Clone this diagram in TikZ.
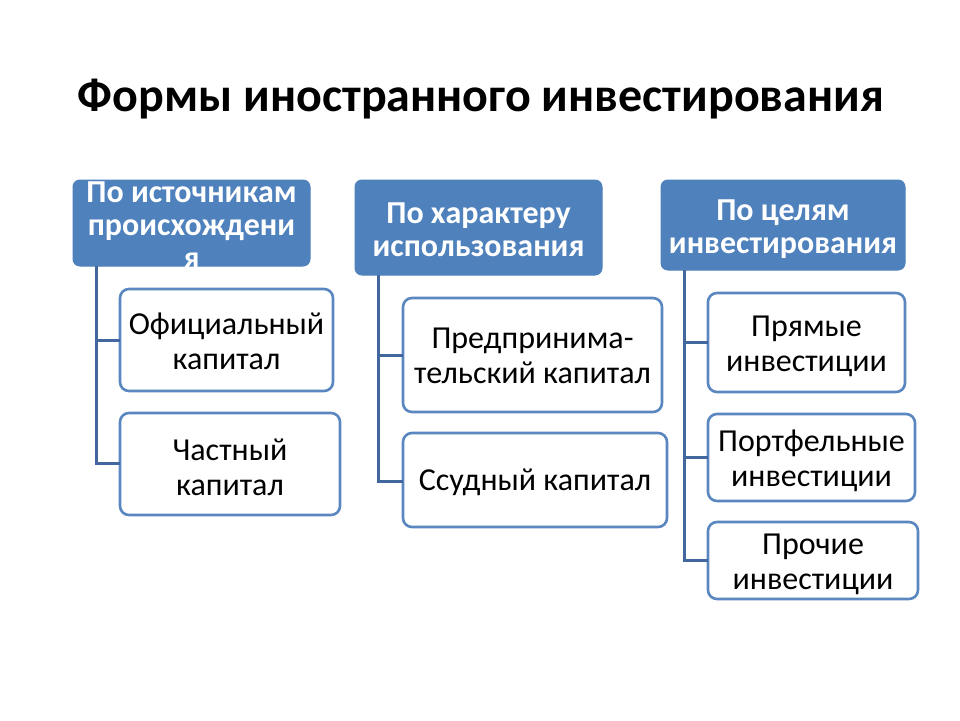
\documentclass[tikz,border=0pt]{standalone}
\usepackage{fontspec}
\setmainfont{Carlito}
\begin{document}
\begin{tikzpicture}[x=1pt,y=-1pt,
  hdr/.style={draw=hdrblue,fill=hdrblue,line width=1pt,rounded corners=7pt},
  hdrtext/.style={text=white,font=\fontsize{32}{33}\selectfont\bfseries,align=center,inner sep=0pt},
  child/.style={draw=boxblue,fill=white,line width=2.6pt,rounded corners=9pt},
  childtext/.style={font=\fontsize{32}{35}\selectfont,align=center,inner sep=0pt},
  conn/.style={draw=lineblue,line width=3pt}]
\definecolor{hdrblue}{HTML}{4F81BD}
\definecolor{boxblue}{HTML}{5B87C0}
\definecolor{lineblue}{HTML}{42679E}
\useasboundingbox (0,0) rectangle (960,720);
\fill[white] (0,0) rectangle (960,720);
\node[font=\fontsize{48}{56}\selectfont\bfseries] (title) at (481,99) {Формы иностранного инвестирования};
% headers
\path[hdr] (73,180) rectangle (310,266);
\node[hdrtext] (h1) at (191.5,225) {По источникам\\происхождени\\я};
\path[hdr] (355,180) rectangle (602,275);
\node[hdrtext] (h2) at (478.5,230) {По характеру\\использования};
\path[hdr] (661,180) rectangle (905,270);
\node[hdrtext] (h3) at (783,229) {По целям\\инвестирования};
% connector anchors
\coordinate (t1) at (96,266);
\coordinate (t2) at (378,275);
\coordinate (t3) at (684,270);
% child boxes
\path[child] (120,289) rectangle (333,391);
\node[childtext] (c11) at (226.5,341) {Официальный\\капитал};
\path[child] (120,413) rectangle (340,515);
\node[childtext] (c12) at (230,467) {Частный\\капитал};
\path[child] (403,298) rectangle (662,412);
\node[childtext] (c21) at (532.5,356) {Предпринима-\\тельский капитал};
\path[child] (403,433) rectangle (667,527);
\node[childtext] (c22) at (535,482) {Ссудный капитал};
\path[child] (708,293) rectangle (905,392);
\node[childtext] (c31) at (806.5,346) {Прямые\\инвестиции};
\path[child] (708,414) rectangle (915,501);
\node[childtext] (c32) at (811.5,461) {Портфельные\\инвестиции};
\path[child] (708,522) rectangle (918,599);
\node[childtext] (c33) at (813,564) {Прочие\\инвестиции};
% connectors
\coordinate (b11) at (120,340);
\coordinate (b12) at (120,463);
\coordinate (b21) at (403,355);
\coordinate (b22) at (403,481);
\coordinate (b31) at (708,342);
\coordinate (b32) at (708,457);
\coordinate (b33) at (708,560);
\draw[conn] (t1) |- (b12);
\draw[conn] (t1 |- b11) -- (b11);
\draw[conn] (t2) |- (b22);
\draw[conn] (t2 |- b21) -- (b21);
\draw[conn] (t3) |- (b33);
\draw[conn] (t3 |- b31) -- (b31);
\draw[conn] (t3 |- b32) -- (b32);
\end{tikzpicture}
\end{document}
